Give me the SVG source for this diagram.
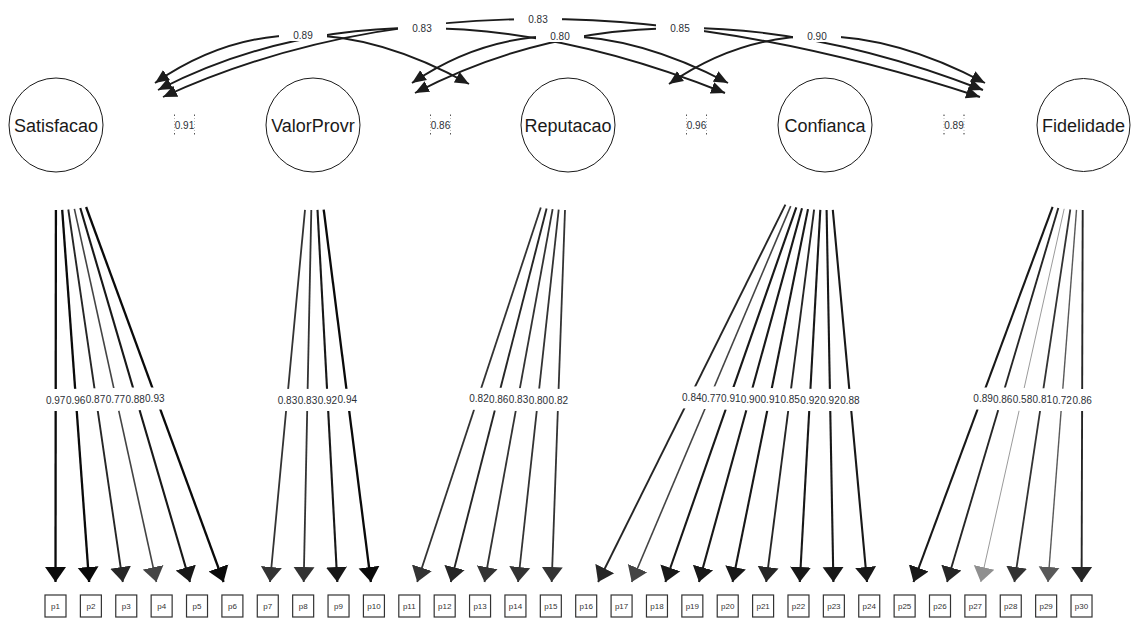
<svg xmlns="http://www.w3.org/2000/svg" width="1131" height="619" viewBox="0 0 1131 619">
  <defs>
    <style>
      .lat circle { fill: #fff; stroke: #1a1a1a; stroke-width: 1; }
      .lat text { font-family: "Liberation Sans", Arial, sans-serif; font-size: 18px; fill: #1a1a1a; text-anchor: middle; }
      .man rect { fill: #fff; stroke: #333; stroke-width: 1.2; }
      .man text { font-family: "Liberation Sans", Arial, sans-serif; font-size: 8px; fill: #333; text-anchor: middle; }
      .cov { fill: none; stroke: #1c1c1c; stroke-width: 1.9; marker-start: url(#hc); marker-end: url(#hc); }
      .ld { fill: none; }
      .g0 { stroke: #0a0a0a; stroke-width: 2.3; marker-end: url(#m0); }
      .g1 { stroke: #181818; stroke-width: 2.1; marker-end: url(#m1); }
      .g2 { stroke: #262626; stroke-width: 1.9; marker-end: url(#m2); }
      .g3 { stroke: #333333; stroke-width: 1.8; marker-end: url(#m3); }
      .g4 { stroke: #444444; stroke-width: 1.6; marker-end: url(#m4); }
      .g5 { stroke: #595959; stroke-width: 1.4; marker-end: url(#m5); }
      .g6 { stroke: #8f8f8f; stroke-width: 0.9; marker-end: url(#m6); }
      .bg { fill: #fff; }
      .lbl { font-family: "Liberation Sans", Arial, sans-serif; font-size: 10px; fill: #2b2f36; text-anchor: middle; }
      .dot { fill: #555; }
      .side { stroke: #999; stroke-width: 0.7; stroke-dasharray: 1 2; }
    </style>
    <!-- arrowheads for the covariance arcs -->
    <marker id="hc" markerUnits="userSpaceOnUse" viewBox="0 0 15 13" markerWidth="15" markerHeight="13" refX="14" refY="6.5" orient="auto-start-reverse">
      <path d="M0,0.5 L14,6.5 L0,12.5 z" fill="#1c1c1c"/>
    </marker>
    <!-- arrowheads for the loadings, one per shade -->
    <marker id="m0" markerUnits="userSpaceOnUse" viewBox="0 0 16 22" markerWidth="16" markerHeight="22" refX="15" refY="11" orient="auto"><path d="M0,0.5 L15,11 L0,21.5 z" fill="#0a0a0a"/></marker>
    <marker id="m1" markerUnits="userSpaceOnUse" viewBox="0 0 16 22" markerWidth="16" markerHeight="22" refX="15" refY="11" orient="auto"><path d="M0,0.5 L15,11 L0,21.5 z" fill="#181818"/></marker>
    <marker id="m2" markerUnits="userSpaceOnUse" viewBox="0 0 16 22" markerWidth="16" markerHeight="22" refX="15" refY="11" orient="auto"><path d="M0,0.5 L15,11 L0,21.5 z" fill="#262626"/></marker>
    <marker id="m3" markerUnits="userSpaceOnUse" viewBox="0 0 16 22" markerWidth="16" markerHeight="22" refX="15" refY="11" orient="auto"><path d="M0,0.5 L15,11 L0,21.5 z" fill="#333333"/></marker>
    <marker id="m4" markerUnits="userSpaceOnUse" viewBox="0 0 16 22" markerWidth="16" markerHeight="22" refX="15" refY="11" orient="auto"><path d="M0,0.5 L15,11 L0,21.5 z" fill="#444444"/></marker>
    <marker id="m5" markerUnits="userSpaceOnUse" viewBox="0 0 16 22" markerWidth="16" markerHeight="22" refX="15" refY="11" orient="auto"><path d="M0,0.5 L15,11 L0,21.5 z" fill="#595959"/></marker>
    <marker id="m6" markerUnits="userSpaceOnUse" viewBox="0 0 16 22" markerWidth="16" markerHeight="22" refX="15" refY="11" orient="auto"><path d="M0,0.5 L15,11 L0,21.5 z" fill="#8f8f8f"/></marker>
  </defs>

  <rect width="1131" height="619" fill="#fff"/>

  <!-- connectors -->
  <g id="edges">
    <!-- covariances between latent factors -->
    <path class="cov" d="M155,83 Q294,-13.5 469,84"/>
    <path class="cov" d="M158,90 Q402.5,-35.5 725,93"/>
    <path class="cov" d="M163,97 Q504.5,-59 980,97"/>
    <path class="cov" d="M412,83 Q550,-11 728,83"/>
    <path class="cov" d="M415,93 Q661,-35.5 983,90"/>
    <path class="cov" d="M669,84 Q807,-11.5 985,83"/>

    <!-- Satisfacao loadings -->
    <path class="ld g0" d="M55.9,210 L55.5,582"/>
    <path class="ld g0" d="M62.2,209.9 L89.1,582"/>
    <path class="ld g2" d="M68.3,209.5 L122.8,582"/>
    <path class="ld g4" d="M74.4,208.9 L156.4,582"/>
    <path class="ld g1" d="M80.3,208 L190,582"/>
    <path class="ld g0" d="M86.1,207 L223.6,582"/>
    <!-- ValorProvr loadings -->
    <path class="ld g3" d="M305,209.8 L270,582"/>
    <path class="ld g3" d="M311.3,210 L303.7,582"/>
    <path class="ld g1" d="M317.5,209.9 L337.3,582"/>
    <path class="ld g0" d="M323.7,209.6 L370.9,582"/>
    <!-- Reputacao loadings -->
    <path class="ld g3" d="M540.8,207.5 L417.2,582"/>
    <path class="ld g2" d="M546.6,208.5 L450.8,582"/>
    <path class="ld g3" d="M552.6,209.2 L484.5,582"/>
    <path class="ld g3" d="M558.7,209.7 L518.1,582"/>
    <path class="ld g3" d="M565,210 L551.7,582"/>
    <!-- Confianca loadings -->
    <path class="ld g2" d="M785.4,204.7 L598.1,582"/>
    <path class="ld g4" d="M790.7,206.1 L631.7,582"/>
    <path class="ld g1" d="M796.3,207.3 L665.4,582"/>
    <path class="ld g1" d="M802,208.3 L699,582"/>
    <path class="ld g1" d="M808,209.1 L732.6,582"/>
    <path class="ld g2" d="M814.1,209.6 L766.2,582"/>
    <path class="ld g1" d="M820.3,209.9 L799.8,582"/>
    <path class="ld g1" d="M826.6,210 L833.4,582"/>
    <path class="ld g1" d="M832.8,209.8 L867,582"/>
    <!-- Fidelidade loadings -->
    <path class="ld g1" d="M1052.6,206.9 L913.5,582"/>
    <path class="ld g2" d="M1058.3,208 L947.1,582"/>
    <path class="ld g6" d="M1064.2,208.8 L980.8,582"/>
    <path class="ld g3" d="M1070.3,209.5 L1014.4,582"/>
    <path class="ld g5" d="M1076.5,209.9 L1048,582"/>
    <path class="ld g2" d="M1082.7,210 L1081.6,582"/>
  </g>

  <!-- edge labels: backgrounds first, then the numbers -->
  <g id="edge-labels">
    <g class="bg">
      <rect x="279" y="29" width="48" height="12"/>
      <rect x="398" y="22" width="48" height="12"/>
      <rect x="514" y="13" width="48" height="12"/>
      <rect x="536" y="30" width="48" height="12"/>
      <rect x="656" y="22" width="48" height="12"/>
      <rect x="793" y="30" width="48" height="12"/>

      <rect x="31.7" y="389" width="48" height="22"/>
      <rect x="51.7" y="389" width="48" height="22"/>
      <rect x="71.5" y="388.8" width="48" height="22"/>
      <rect x="91.4" y="388.4" width="48" height="22"/>
      <rect x="111.2" y="388" width="48" height="22"/>
      <rect x="130.8" y="387.5" width="48" height="22"/>

      <rect x="263.5" y="388.9" width="48" height="22"/>
      <rect x="283.5" y="389" width="48" height="22"/>
      <rect x="303.4" y="389" width="48" height="22"/>
      <rect x="323.3" y="388.8" width="48" height="22"/>

      <rect x="455" y="387.8" width="48" height="22"/>
      <rect x="474.7" y="388.2" width="48" height="22"/>
      <rect x="494.5" y="388.6" width="48" height="22"/>
      <rect x="514.4" y="388.9" width="48" height="22"/>
      <rect x="534.3" y="389" width="48" height="22"/>

      <rect x="667.8" y="386.4" width="48" height="22"/>
      <rect x="687.2" y="387" width="48" height="22"/>
      <rect x="706.8" y="387.6" width="48" height="22"/>
      <rect x="726.5" y="388.1" width="48" height="22"/>
      <rect x="746.3" y="388.5" width="48" height="22"/>
      <rect x="766.2" y="388.8" width="48" height="22"/>
      <rect x="786.1" y="389" width="48" height="22"/>
      <rect x="806" y="389" width="48" height="22"/>
      <rect x="825.9" y="388.9" width="48" height="22"/>

      <rect x="959.1" y="387.5" width="48" height="22"/>
      <rect x="978.7" y="388" width="48" height="22"/>
      <rect x="998.5" y="388.4" width="48" height="22"/>
      <rect x="1018.3" y="388.7" width="48" height="22"/>
      <rect x="1038.2" y="389" width="48" height="22"/>
      <rect x="1058.2" y="389" width="48" height="22"/>
    </g>

    <!-- covariance values -->
    <text class="lbl" x="303" y="38.6">0.89</text>
    <text class="lbl" x="422" y="31.6">0.83</text>
    <text class="lbl" x="538" y="22.6">0.83</text>
    <text class="lbl" x="560" y="39.6">0.80</text>
    <text class="lbl" x="680" y="31.6">0.85</text>
    <text class="lbl" x="817" y="39.6">0.90</text>

    <!-- covariances between neighbouring factors -->
    <g>
      <line class="side" x1="174.5" y1="115" x2="174.5" y2="134"/>
      <line class="side" x1="194.5" y1="115" x2="194.5" y2="134"/>
      <rect class="dot" x="174" y="114.5" width="1" height="1.5"/>
      <rect class="dot" x="194" y="114.5" width="1" height="1.5"/>
      <rect class="dot" x="174" y="133" width="1" height="1.5"/>
      <rect class="dot" x="194" y="133" width="1" height="1.5"/>
      <text class="lbl" x="184.5" y="128.6">0.91</text>
    </g>
    <g>
      <line class="side" x1="430.5" y1="115" x2="430.5" y2="134"/>
      <line class="side" x1="450.5" y1="115" x2="450.5" y2="134"/>
      <rect class="dot" x="430" y="114.5" width="1" height="1.5"/>
      <rect class="dot" x="450" y="114.5" width="1" height="1.5"/>
      <rect class="dot" x="430" y="133" width="1" height="1.5"/>
      <rect class="dot" x="450" y="133" width="1" height="1.5"/>
      <text class="lbl" x="440.5" y="128.6">0.86</text>
    </g>
    <g>
      <line class="side" x1="686.5" y1="115" x2="686.5" y2="134"/>
      <line class="side" x1="706.5" y1="115" x2="706.5" y2="134"/>
      <rect class="dot" x="686" y="114.5" width="1" height="1.5"/>
      <rect class="dot" x="706" y="114.5" width="1" height="1.5"/>
      <rect class="dot" x="686" y="133" width="1" height="1.5"/>
      <rect class="dot" x="706" y="133" width="1" height="1.5"/>
      <text class="lbl" x="696.5" y="128.6">0.96</text>
    </g>
    <g>
      <line class="side" x1="944" y1="115" x2="944" y2="134"/>
      <line class="side" x1="964" y1="115" x2="964" y2="134"/>
      <rect class="dot" x="943.5" y="114.5" width="1" height="1.5"/>
      <rect class="dot" x="963.5" y="114.5" width="1" height="1.5"/>
      <rect class="dot" x="943.5" y="133" width="1" height="1.5"/>
      <rect class="dot" x="963.5" y="133" width="1" height="1.5"/>
      <text class="lbl" x="954" y="128.6">0.89</text>
    </g>

    <!-- loadings -->
    <text class="lbl" x="55.7" y="403.6">0.97</text>
    <text class="lbl" x="75.7" y="403.6">0.96</text>
    <text class="lbl" x="95.5" y="403.4">0.87</text>
    <text class="lbl" x="115.4" y="403">0.77</text>
    <text class="lbl" x="135.2" y="402.6">0.88</text>
    <text class="lbl" x="154.8" y="401.6">0.93</text>

    <text class="lbl" x="287.5" y="403.5">0.83</text>
    <text class="lbl" x="307.5" y="403.6">0.83</text>
    <text class="lbl" x="327.4" y="403.6">0.92</text>
    <text class="lbl" x="347.3" y="403.4">0.94</text>

    <text class="lbl" x="479" y="402.4">0.82</text>
    <text class="lbl" x="498.7" y="402.8">0.86</text>
    <text class="lbl" x="518.5" y="403.2">0.83</text>
    <text class="lbl" x="538.4" y="403.5">0.80</text>
    <text class="lbl" x="558.3" y="403.6">0.82</text>

    <text class="lbl" x="691.8" y="401">0.84</text>
    <text class="lbl" x="711.2" y="401.6">0.77</text>
    <text class="lbl" x="730.8" y="402.2">0.91</text>
    <text class="lbl" x="750.5" y="402.7">0.90</text>
    <text class="lbl" x="770.3" y="403.1">0.91</text>
    <text class="lbl" x="790.2" y="403.4">0.85</text>
    <text class="lbl" x="810.1" y="403.6">0.92</text>
    <text class="lbl" x="830" y="403.6">0.92</text>
    <text class="lbl" x="849.9" y="403.5">0.88</text>

    <text class="lbl" x="983.1" y="401.9">0.89</text>
    <text class="lbl" x="1002.7" y="402.6">0.86</text>
    <text class="lbl" x="1022.5" y="403">0.58</text>
    <text class="lbl" x="1042.3" y="403.3">0.81</text>
    <text class="lbl" x="1062.2" y="403.6">0.72</text>
    <text class="lbl" x="1082.2" y="403.6">0.86</text>
  </g>

  <!-- latent factors -->
  <g id="Satisfacao" class="lat" transform="translate(56,125)"><circle r="47"/><text y="6.8">Satisfacao</text></g>
  <g id="ValorProvr" class="lat" transform="translate(313,125)"><circle r="47"/><text y="6.8">ValorProvr</text></g>
  <g id="Reputacao" class="lat" transform="translate(568,125)"><circle r="47"/><text y="6.8">Reputacao</text></g>
  <g id="Confianca" class="lat" transform="translate(825,125)"><circle r="47"/><text y="6.8">Confianca</text></g>
  <g id="Fidelidade" class="lat" transform="translate(1083.5,125)"><circle r="46.5"/><text y="6.8">Fidelidade</text></g>

  <!-- observed items -->
  <g id="p1" class="man" transform="translate(55.5,606)"><rect x="-10.5" y="-11" width="21" height="22"/><text y="3">p1</text></g>
  <g id="p2" class="man" transform="translate(90.88,606)"><rect x="-10.5" y="-11" width="21" height="22"/><text y="3">p2</text></g>
  <g id="p3" class="man" transform="translate(126.26,606)"><rect x="-10.5" y="-11" width="21" height="22"/><text y="3">p3</text></g>
  <g id="p4" class="man" transform="translate(161.64,606)"><rect x="-10.5" y="-11" width="21" height="22"/><text y="3">p4</text></g>
  <g id="p5" class="man" transform="translate(197.02,606)"><rect x="-10.5" y="-11" width="21" height="22"/><text y="3">p5</text></g>
  <g id="p6" class="man" transform="translate(232.4,606)"><rect x="-10.5" y="-11" width="21" height="22"/><text y="3">p6</text></g>
  <g id="p7" class="man" transform="translate(267.78,606)"><rect x="-10.5" y="-11" width="21" height="22"/><text y="3">p7</text></g>
  <g id="p8" class="man" transform="translate(303.16,606)"><rect x="-10.5" y="-11" width="21" height="22"/><text y="3">p8</text></g>
  <g id="p9" class="man" transform="translate(338.54,606)"><rect x="-10.5" y="-11" width="21" height="22"/><text y="3">p9</text></g>
  <g id="p10" class="man" transform="translate(373.92,606)"><rect x="-10.5" y="-11" width="21" height="22"/><text y="3">p10</text></g>
  <g id="p11" class="man" transform="translate(409.3,606)"><rect x="-10.5" y="-11" width="21" height="22"/><text y="3">p11</text></g>
  <g id="p12" class="man" transform="translate(444.68,606)"><rect x="-10.5" y="-11" width="21" height="22"/><text y="3">p12</text></g>
  <g id="p13" class="man" transform="translate(480.06,606)"><rect x="-10.5" y="-11" width="21" height="22"/><text y="3">p13</text></g>
  <g id="p14" class="man" transform="translate(515.44,606)"><rect x="-10.5" y="-11" width="21" height="22"/><text y="3">p14</text></g>
  <g id="p15" class="man" transform="translate(550.82,606)"><rect x="-10.5" y="-11" width="21" height="22"/><text y="3">p15</text></g>
  <g id="p16" class="man" transform="translate(586.2,606)"><rect x="-10.5" y="-11" width="21" height="22"/><text y="3">p16</text></g>
  <g id="p17" class="man" transform="translate(621.58,606)"><rect x="-10.5" y="-11" width="21" height="22"/><text y="3">p17</text></g>
  <g id="p18" class="man" transform="translate(656.96,606)"><rect x="-10.5" y="-11" width="21" height="22"/><text y="3">p18</text></g>
  <g id="p19" class="man" transform="translate(692.34,606)"><rect x="-10.5" y="-11" width="21" height="22"/><text y="3">p19</text></g>
  <g id="p20" class="man" transform="translate(727.72,606)"><rect x="-10.5" y="-11" width="21" height="22"/><text y="3">p20</text></g>
  <g id="p21" class="man" transform="translate(763.1,606)"><rect x="-10.5" y="-11" width="21" height="22"/><text y="3">p21</text></g>
  <g id="p22" class="man" transform="translate(798.48,606)"><rect x="-10.5" y="-11" width="21" height="22"/><text y="3">p22</text></g>
  <g id="p23" class="man" transform="translate(833.86,606)"><rect x="-10.5" y="-11" width="21" height="22"/><text y="3">p23</text></g>
  <g id="p24" class="man" transform="translate(869.24,606)"><rect x="-10.5" y="-11" width="21" height="22"/><text y="3">p24</text></g>
  <g id="p25" class="man" transform="translate(904.62,606)"><rect x="-10.5" y="-11" width="21" height="22"/><text y="3">p25</text></g>
  <g id="p26" class="man" transform="translate(940,606)"><rect x="-10.5" y="-11" width="21" height="22"/><text y="3">p26</text></g>
  <g id="p27" class="man" transform="translate(975.38,606)"><rect x="-10.5" y="-11" width="21" height="22"/><text y="3">p27</text></g>
  <g id="p28" class="man" transform="translate(1010.76,606)"><rect x="-10.5" y="-11" width="21" height="22"/><text y="3">p28</text></g>
  <g id="p29" class="man" transform="translate(1046.14,606)"><rect x="-10.5" y="-11" width="21" height="22"/><text y="3">p29</text></g>
  <g id="p30" class="man" transform="translate(1081.52,606)"><rect x="-10.5" y="-11" width="21" height="22"/><text y="3">p30</text></g>
</svg>
